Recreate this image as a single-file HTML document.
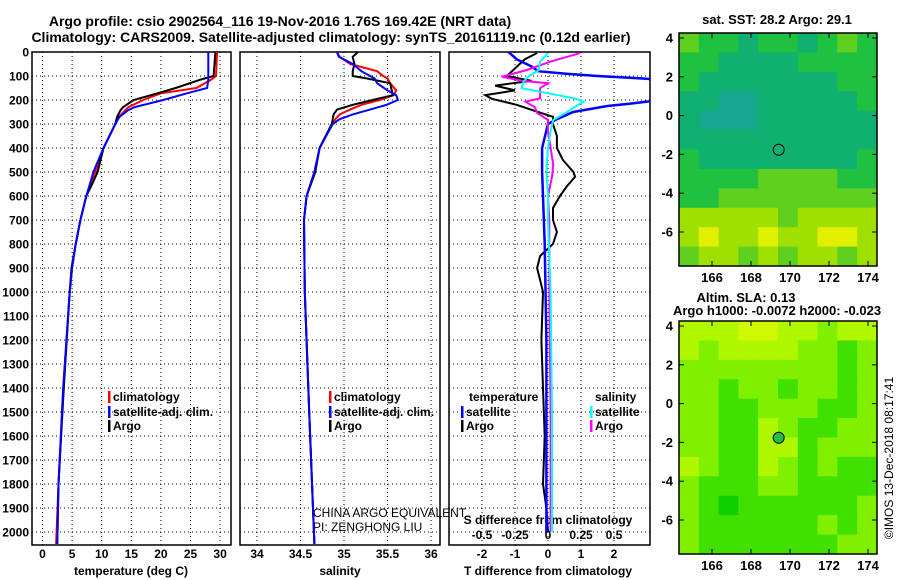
<!DOCTYPE html>
<html><head><meta charset="utf-8"><style>
html,body{margin:0;padding:0;background:#fff}
svg{display:block}
text{font-family:"Liberation Sans",sans-serif;font-weight:bold;font-size:12px;fill:#000}
</style></head><body>
<svg id="c" width="900" height="580" viewBox="0 0 900 580" xmlns="http://www.w3.org/2000/svg">
<text x="280" y="26" text-anchor="middle" style="font-size:14px">Argo profile: csio 2902564_116 19-Nov-2016 1.76S 169.42E (NRT data)</text>
<text x="331" y="42" text-anchor="middle" style="font-size:14px">Climatology: CARS2009. Satellite-adjusted climatology: synTS_20161119.nc (0.12d earlier)</text>
<text x="777" y="24" text-anchor="middle" style="font-size:13px">sat. SST: 28.2 Argo: 29.1</text>
<text x="746" y="302" text-anchor="middle" style="font-size:13px">Altim. SLA: 0.13</text>
<text x="777" y="315" text-anchor="middle" style="font-size:13px">Argo h1000: -0.0072 h2000: -0.023</text>
<text transform="translate(893,458) rotate(-90)" text-anchor="middle" style="font-weight:normal">©IMOS 13-Dec-2018 08:17:41</text>
<text x="313" y="517" style="font-weight:normal">CHINA ARGO EQUIVALENT</text>
<text x="313" y="531" style="font-weight:normal">PI: ZENGHONG LIU</text>
<g id="g"></g>
</svg>
<script>
// ---- data ----
const depthTicks=[0,100,200,300,400,500,600,700,800,900,1000,1100,1200,1300,1400,1500,1600,1700,1800,1900,2000];
const tempTicks=[0,5,10,15,20,25,30];
const salTicks=[34,34.5,35,35.5,36];
const salTickLabels=["34","34.5","35","35.5","36"];
const tdTicks=[-2,-1,0,1,2];
const sdTicks=[-0.5,-0.25,0,0.25,0.5];
const sdTickLabels=["-0.5","-0.25","0","0.25","0.5"];

const tDepth=[0,100,115,150,172,200,230,242,270,300,400,500,550,600,700,800,900,1000,1400,1800,2050];
const tArgo=[29.2,28.9,26.7,22.5,19.4,15.4,13.6,13.2,12.6,12.3,10.3,9.3,8.4,7.4,6.4,5.6,4.9,4.6,3.6,2.7,2.5];
const tClim=[29.5,29.3,28.5,26,20,17,14.5,14,12.9,12.3,10.3,8.9,8.1,7.4,6.4,5.6,5.0,4.6,3.5,2.7,2.3];
const tSat=[28.0,28.0,28.0,27.8,24.4,20.4,15.5,14.5,13,12.3,10.3,8.6,8.0,7.4,6.4,5.6,5.0,4.6,3.5,2.7,2.5];

const sDepth=[0,20,50,80,100,110,130,160,180,200,220,240,260,280,300,400,500,600,700,1000,1500,2050];
const sArgo=[35.16,35.1,35.12,35.1,35.1,35.26,35.53,35.55,35.56,35.33,35.1,34.92,34.88,34.87,34.86,34.72,34.67,34.57,34.54,34.55,34.6,34.66];
const sClim=[34.92,34.95,35.07,35.38,35.45,35.5,35.53,35.6,35.57,35.41,35.2,35.07,34.95,34.9,34.86,34.72,34.66,34.57,34.54,34.55,34.6,34.66];
const sSat=[34.92,34.94,35.1,35.2,35.3,35.35,35.38,35.5,35.6,35.62,35.49,35.3,35.1,34.95,34.87,34.72,34.66,34.57,34.54,34.55,34.6,34.66];

const dtDepthArgo=[4,30,100,120,140,160,180,195,220,250,270,300,350,400,450,500,520,560,600,650,700,750,800,850,900,950,1000,1200,1400,1600,1800,1900,2000];
const dtArgo=[-0.33,-0.7,-1.25,-0.5,-1.6,-1.0,-1.9,-1.7,-0.95,-0.3,0.15,0.15,0.27,0.27,0.45,0.77,0.82,0.57,0.36,0.15,0.15,0.27,0.15,-0.24,-0.33,-0.24,-0.15,-0.2,-0.15,-0.1,-0.15,-0.05,0];
const dtDepthSat=[0,30,60,80,90,100,110,120,200,205,215,225,250,280,300,400,500,600,800,1200,2000];
const dtSat=[-1.2,-0.95,-0.5,-0.3,0.5,1.5,2.8,4,4,3.1,2.5,1.8,0.76,0.27,0,-0.18,-0.18,-0.15,-0.1,-0.05,-0.05];
const dsDepth=[5,40,75,103,120,130,151,193,207,230,255,283,330,400,470,520,600,700,1000,1500,2000];
const dsArgo=[0.24,0.02,-0.16,-0.35,-0.2,0,-0.06,-0.06,-0.17,-0.1,-0.08,0,0,0.02,0.04,0.03,0,0.01,0.01,0.02,0.02];
const dsSat=[0,-0.06,-0.07,-0.15,-0.18,-0.19,-0.2,0.2,0.27,0.2,0.13,0.04,0.02,0,-0.01,-0.01,0,0,0.02,0.03,0.03];

const latTicks=[4,2,0,-2,-4,-6];
const lonTicks=[166,168,170,172,174];
const argoLon=169.42, argoLat=-1.76;
const sstGrid=[
[3,2,2,1,2,2,1,2,3,2],
[2,2,1,1,1,1,2,2,2,2],
[2,1,1,1,1,1,1,1,2,2],
[1,1,0,0,1,1,1,1,1,2],
[1,0,0,0,1,1,1,1,1,1],
[1,1,1,1,1,1,1,1,1,1],
[2,1,1,1,1,1,1,1,1,2],
[2,2,2,2,3,3,3,3,2,2],
[2,2,3,3,3,3,3,3,3,3],
[4,4,4,4,4,3,4,4,4,4],
[4,5,4,4,5,4,4,5,5,4],
[3,4,4,3,4,3,4,4,3,4]];
const slaGrid=[
[3,3,3,4,4,3,3,2,3,3],
[3,2,3,3,3,3,2,2,1,2],
[2,2,2,2,2,2,2,2,1,2],
[2,2,1,2,2,1,2,2,1,2],
[2,2,1,1,2,2,2,1,1,2],
[2,2,1,1,3,2,1,1,2,2],
[2,2,1,1,3,3,1,2,2,2],
[3,2,1,1,3,2,1,2,1,1],
[2,1,1,1,2,2,1,1,1,1],
[2,1,0,1,1,1,1,1,1,2],
[2,1,1,1,1,1,1,2,1,2],
[2,1,1,1,1,1,1,1,2,2]];
const sstColors=["#18a890","#10b070","#20c040","#60d020","#a0e000","#e0f000"];
const slaColors=["#10d000","#40e000","#80f000","#b0f800","#d0f800"];

// ---- drawing ----
const NS="http://www.w3.org/2000/svg";
const G=document.getElementById('g');
function mk(t,a,p){const e=document.createElementNS(NS,t);for(const k in a)e.setAttribute(k,a[k]);(p||G).appendChild(e);return e;}
const Y=d=>52+d*0.24;
const TOP=52,BOT=545;
const panels=[
 {name:'temperature',x0:32,x1:231,f:v=>42.5+v*5.92},
 {name:'salinity',x0:240,x1:440,f:v=>257+(v-34)*87},
 {name:'difference',x0:449,x1:650,f:v=>548+v*33}
];
const sdx=v=>548+v*132;
panels.forEach((p,i)=>{
  const cp=mk('clipPath',{id:'cp'+i});
  mk('rect',{x:p.x0,y:TOP,width:p.x1-p.x0,height:BOT-TOP},cp);
  depthTicks.forEach(d=>{
    const l=mk('line',{x1:p.x0,x2:p.x1,y1:Y(d),y2:Y(d),stroke:'#000','stroke-dasharray':'1 3'});
    
    
  });
});
function vgrid(p,ticks,labels,ly){
  ticks.forEach((t,j)=>{
    const x=p.f(t);
    const l=mk('line',{x1:x,x2:x,y1:TOP,y2:BOT,stroke:'#000','stroke-dasharray':'1 3'});
    
    
    const tx=mk('text',{x:x,y:ly,'text-anchor':'middle'});
    tx.textContent=labels?labels[j]:String(t);
    
    
  });
}
vgrid(panels[0],tempTicks,null,558);
vgrid(panels[1],salTicks,salTickLabels,558);
vgrid(panels[2],tdTicks,null,558);
sdTicks.forEach((t,j)=>{
  const tx=mk('text',{x:sdx(t),y:539,'text-anchor':'middle'});
  tx.textContent=sdTickLabels[j];
  
  
});
depthTicks.forEach(d=>{
  const tx=mk('text',{x:29,y:Y(d)+4.5,'text-anchor':'end'});
  tx.textContent=String(d);
  
  
});
panels.forEach((p,i)=>{
  const r=mk('rect',{x:p.x0,y:TOP,width:p.x1-p.x0,height:BOT-TOP,fill:'none',stroke:'#000','stroke-width':1.5});
  
  
});
[['temperature (deg C)',131],['salinity',340],['T difference from climatology',548]].forEach(a=>{
  const t=mk('text',{x:a[1],y:575,'text-anchor':'middle'});t.textContent=a[0];
  
  
});
const st=mk('text',{x:548,y:524,'text-anchor':'middle'});st.textContent='S difference from climatology';



function line(depths,vals,fx,color,i,name,w){
  const pts=depths.map((d,k)=>fx(vals[k]).toFixed(1)+','+Y(d).toFixed(1)).join(' ');
  const e=mk('polyline',{points:pts,fill:'none',stroke:color,'stroke-width':w||2,'clip-path':'url(#cp'+i+')'});
  
  
}
const P=panels;
line(tDepth,tClim,P[0].f,'#f00',0,'temperature-climatology-line');
line(tDepth,tArgo,P[0].f,'#000',0,'temperature-argo-line');
line(tDepth,tSat,P[0].f,'#00f',0,'temperature-satellite-line');
line(sDepth,sClim,P[1].f,'#f00',1,'salinity-climatology-line');
line(sDepth,sArgo,P[1].f,'#000',1,'salinity-argo-line');
line(sDepth,sSat,P[1].f,'#00f',1,'salinity-satellite-line');
line(dtDepthArgo,dtArgo,P[2].f,'#000',2,'t-diff-argo-line');
line(dtDepthSat,dtSat,P[2].f,'#00f',2,'t-diff-satellite-line',2.5);
line(dsDepth,dsArgo,sdx,'#f0f',2,'s-diff-argo-line');
line(dsDepth,dsSat,sdx,'#0ff',2,'s-diff-satellite-line');

function legend(x,y,color,label,name){
  const m=mk('rect',{x:x,y:y-10,width:2.5,height:12,fill:color});
  
  
  const t=mk('text',{x:x+5,y:y});t.textContent=label;
  
  
}
legend(108,401,'#f00','climatology','legend-climatology');
legend(108,416,'#00f','satellite-adj. clim.','legend-satellite');
legend(108,430,'#000','Argo','legend-argo');
legend(329,401,'#f00','climatology','legend-sal-climatology');
legend(329,416,'#00f','satellite-adj. clim.','legend-sal-satellite');
legend(329,430,'#000','Argo','legend-sal-argo');
const lt=mk('text',{x:469,y:401});lt.textContent='temperature';

const ls=mk('text',{x:595,y:401});ls.textContent='salinity';

legend(461,416,'#00f','satellite','legend-tdiff-satellite');
legend(461,430,'#000','Argo','legend-tdiff-argo');
legend(590,416,'#0ff','satellite','legend-sdiff-satellite');
legend(590,430,'#f0f','Argo','legend-sdiff-argo');

// maps
function map(y0,grid,colors,name,fillMarker){
  const x0=679,x1=877,y1=y0+233;
  const lx=v=>712+(v-166)*19.5;
  const ly=v=>y0+5+(4-v)*19.4;
  const latTop=4+5/19.4, latBot=4-(233-5)/19.4;
  const lonL=166-(712-x0)/19.5, lonR=166+(x1-712)/19.5;
  const rows=grid.length, cols=grid[0].length;
  const dLat=(latTop-latBot)/rows, dLon=(lonR-lonL)/cols;
  grid.forEach((row,r)=>row.forEach((v,c)=>{
    const xa=lx(lonL+c*dLon), ya=ly(latTop-r*dLat);
    const e=mk('rect',{x:xa,y:ya,width:lx(lonL+(c+1)*dLon)-xa+0.5,height:ly(latTop-(r+1)*dLat)-ya+0.5,fill:colors[v]});
    
    
  }));
  const f=mk('rect',{x:x0,y:y0,width:x1-x0,height:y1-y0,fill:'none',stroke:'#000','stroke-width':1.5});
  
  
  latTicks.forEach(t=>{
    const tx=mk('text',{x:673,y:ly(t)+4.5,'text-anchor':'end','style':'font-size:13px'});tx.textContent=String(t);
    
    mk('line',{x1:x0,x2:x0+5,y1:ly(t),y2:ly(t),stroke:'#000'});
    mk('line',{x1:x1-5,x2:x1,y1:ly(t),y2:ly(t),stroke:'#000'});
  });
  lonTicks.forEach(t=>{
    const tx=mk('text',{x:lx(t),y:y1+16,'text-anchor':'middle','style':'font-size:13px'});tx.textContent=String(t);
    
    mk('line',{x1:lx(t),x2:lx(t),y1:y0,y2:y0+5,stroke:'#000'});
    mk('line',{x1:lx(t),x2:lx(t),y1:y1-5,y2:y1,stroke:'#000'});
  });
  const c=mk('circle',{cx:lx(argoLon),cy:ly(argoLat),r:5.5,fill:fillMarker||'none',stroke:'#000'});
  
  
}
map(33,sstGrid,sstColors,'sst-map');
map(321,slaGrid,slaColors,'sla-map','#20c040');
</script>
</body></html>
